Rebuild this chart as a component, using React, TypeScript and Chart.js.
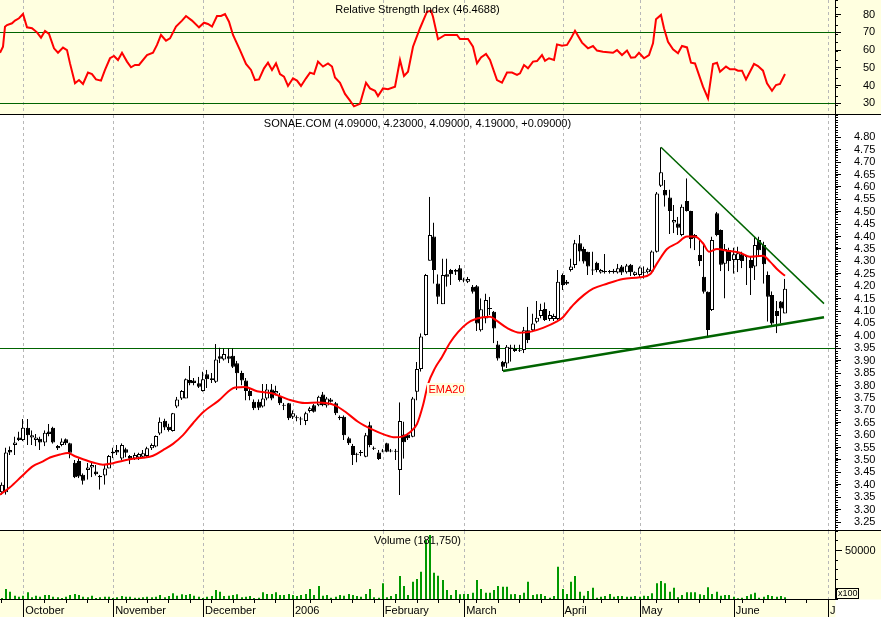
import React, { useEffect, useRef } from "react";
import { Chart, registerables } from "chart.js";

Chart.register(...registerables);

// ---------- DATA (one entry per trading day, index 0 = 26 Sep 2005) ----------
const opens = [
  3.37, 3.37, 3.54, 3.56, 3.59, 3.58, 3.63, 3.59, 3.58, 3.585,
  3.57, 3.615, 3.63, 3.556, 3.56, 3.583, 3.567, 3.489, 3.496, 3.44,
  3.46, 3.47, 3.453, 3.435, 3.437, 3.466, 3.527, 3.54, 3.506, 3.543,
  3.516, 3.506, 3.51, 3.513, 3.516, 3.547, 3.554, 3.607, 3.658, 3.634,
  3.617, 3.715, 3.748, 3.748, 3.822, 3.82, 3.809, 3.778, 3.845, 3.829,
  3.815, 3.918, 3.905, 3.918, 3.92, 3.89, 3.85, 3.82, 3.778, 3.735,
  3.735, 3.715, 3.748, 3.784, 3.768, 3.758, 3.722, 3.728, 3.674, 3.672,
  3.667, 3.657, 3.697, 3.72, 3.72, 3.764, 3.719, 3.744, 3.728, 3.674,
  3.674, 3.587, 3.556, 3.525, 3.532, 3.513, 3.64, 3.549, 3.53, 3.538,
  3.567, 3.538, 3.537, 3.46, 3.603, 3.603, 3.594, 3.775, 3.866, 4.003,
  4.303, 4.40, 4.211, 4.127, 4.248, 4.265, 4.258, 4.272, 4.227, 4.218,
  4.198, 4.20, 4.023, 4.07, 4.112, 4.097, 3.965, 3.896, 3.889, 3.947,
  3.939, 3.94, 3.943, 4.023, 4.023, 4.057, 4.08, 4.108, 4.068, 4.068,
  4.068, 4.245, 4.218, 4.265, 4.285, 4.373, 4.35, 4.339, 4.267, 4.295,
  4.255, 4.261, 4.261, 4.262, 4.255, 4.279, 4.256, 4.286, 4.245, 4.245,
  4.258, 4.256, 4.259, 4.339, 4.605, 4.588, 4.557, 4.457, 4.453, 4.406,
  4.543, 4.503, 4.393, 4.326, 4.238, 4.178, 4.104, 4.494, 4.426, 4.29,
  4.346, 4.306, 4.306, 4.329, 4.322, 4.306, 4.279, 4.386, 4.366, 4.245,
  4.165, 4.10, 4.138, 4.09,
];
const highs = [
  3.41, 3.55, 3.555, 3.595, 3.615, 3.665, 3.665, 3.62, 3.605, 3.595,
  3.62, 3.645, 3.635, 3.56, 3.587, 3.587, 3.57, 3.50, 3.507, 3.446,
  3.489, 3.49, 3.48, 3.44, 3.48, 3.52, 3.55, 3.56, 3.567, 3.55,
  3.52, 3.53, 3.53, 3.54, 3.554, 3.567, 3.60, 3.672, 3.667, 3.647,
  3.69, 3.755, 3.782, 3.829, 3.879, 3.83, 3.835, 3.856, 3.863, 3.85,
  3.967, 3.953, 3.95, 3.95, 3.95, 3.90, 3.86, 3.83, 3.79, 3.745,
  3.745, 3.806, 3.806, 3.806, 3.80, 3.77, 3.73, 3.73, 3.70, 3.68,
  3.675, 3.695, 3.715, 3.725, 3.76, 3.775, 3.755, 3.75, 3.735, 3.68,
  3.68, 3.595, 3.565, 3.53, 3.54, 3.61, 3.655, 3.555, 3.54, 3.545,
  3.57, 3.545, 3.545, 3.732, 3.655, 3.61, 3.755, 3.895, 4.01, 4.25,
  4.56, 4.457, 4.248, 4.312, 4.312, 4.27, 4.27, 4.285, 4.235, 4.238,
  4.205, 4.205, 4.151, 4.171, 4.158, 4.10, 3.98, 3.90, 3.963, 3.965,
  3.965, 3.965, 4.037, 4.117, 4.09, 4.14, 4.13, 4.135, 4.10, 4.09,
  4.265, 4.252, 4.225, 4.312, 4.387, 4.406, 4.36, 4.34, 4.34, 4.30,
  4.27, 4.33, 4.265, 4.27, 4.29, 4.285, 4.29, 4.29, 4.26, 4.28,
  4.28, 4.275, 4.345, 4.58, 4.76, 4.628, 4.59, 4.527, 4.48, 4.53,
  4.635, 4.505, 4.41, 4.39, 4.366, 4.18, 4.40, 4.50, 4.43, 4.37,
  4.356, 4.356, 4.36, 4.34, 4.325, 4.32, 4.40, 4.40, 4.38, 4.26,
  4.18, 4.14, 4.14, 4.23,
];
const lows = [
  3.36, 3.36, 3.52, 3.52, 3.575, 3.575, 3.56, 3.56, 3.555, 3.54,
  3.555, 3.595, 3.565, 3.54, 3.554, 3.56, 3.506, 3.426, 3.426, 3.40,
  3.42, 3.43, 3.436, 3.38, 3.40, 3.466, 3.507, 3.52, 3.50, 3.51,
  3.483, 3.50, 3.50, 3.51, 3.51, 3.54, 3.55, 3.60, 3.62, 3.614,
  3.614, 3.708, 3.742, 3.748, 3.80, 3.80, 3.79, 3.775, 3.79, 3.81,
  3.81, 3.89, 3.90, 3.89, 3.87, 3.782, 3.80, 3.74, 3.74, 3.70,
  3.70, 3.71, 3.74, 3.74, 3.76, 3.72, 3.70, 3.66, 3.665, 3.655,
  3.64, 3.64, 3.69, 3.69, 3.715, 3.715, 3.71, 3.73, 3.68, 3.66,
  3.58, 3.56, 3.48, 3.49, 3.515, 3.51, 3.55, 3.54, 3.50, 3.53,
  3.53, 3.53, 3.50, 3.359, 3.505, 3.58, 3.59, 3.74, 3.855, 4.00,
  4.303, 4.21, 4.127, 4.127, 4.198, 4.205, 4.245, 4.218, 4.215, 4.212,
  4.17, 4.02, 4.017, 4.05, 4.084, 3.97, 3.90, 3.858, 3.87, 3.896,
  3.935, 3.935, 3.93, 3.97, 4.015, 4.05, 4.07, 4.06, 4.06, 4.06,
  4.064, 4.185, 4.205, 4.258, 4.272, 4.30, 4.29, 4.245, 4.245, 4.255,
  4.25, 4.25, 4.25, 4.25, 4.25, 4.245, 4.25, 4.24, 4.24, 4.235,
  4.23, 4.25, 4.255, 4.335, 4.60, 4.52, 4.41, 4.413, 4.406, 4.40,
  4.50, 4.352, 4.345, 4.28, 4.17, 3.99, 4.10, 4.40, 4.26, 4.15,
  4.26, 4.25, 4.256, 4.272, 4.205, 4.165, 4.225, 4.32, 4.21, 4.057,
  4.04, 4.01, 4.05, 4.09,
];
const closes = [
  3.40, 3.53, 3.53, 3.57, 3.58, 3.63, 3.60, 3.60, 3.59, 3.57,
  3.61, 3.605, 3.57, 3.547, 3.574, 3.567, 3.529, 3.43, 3.433, 3.416,
  3.47, 3.48, 3.442, 3.43, 3.466, 3.516, 3.533, 3.53, 3.56, 3.529,
  3.505, 3.52, 3.524, 3.527, 3.547, 3.56, 3.597, 3.654, 3.631, 3.621,
  3.688, 3.744, 3.778, 3.825, 3.809, 3.81, 3.795, 3.825, 3.825, 3.822,
  3.905, 3.908, 3.927, 3.908, 3.876, 3.849, 3.82, 3.778, 3.758, 3.708,
  3.71, 3.748, 3.784, 3.748, 3.778, 3.728, 3.718, 3.668, 3.688, 3.668,
  3.663, 3.688, 3.708, 3.694, 3.755, 3.72, 3.748, 3.735, 3.688, 3.668,
  3.60, 3.567, 3.52, 3.521, 3.528, 3.60, 3.56, 3.545, 3.504, 3.534,
  3.533, 3.534, 3.533, 3.657, 3.571, 3.587, 3.748, 3.866, 3.997, 4.245,
  4.406, 4.265, 4.158, 4.245, 4.238, 4.248, 4.265, 4.225, 4.223, 4.229,
  4.178, 4.05, 4.107, 4.144, 4.108, 4.03, 3.909, 3.876, 3.956, 3.953,
  3.947, 3.944, 4.023, 3.983, 4.05, 4.073, 4.104, 4.064, 4.084, 4.08,
  4.218, 4.205, 4.21, 4.279, 4.373, 4.34, 4.30, 4.279, 4.263, 4.265,
  4.265, 4.257, 4.257, 4.256, 4.272, 4.255, 4.283, 4.256, 4.256, 4.275,
  4.254, 4.268, 4.34, 4.574, 4.659, 4.565, 4.503, 4.467, 4.436, 4.52,
  4.503, 4.39, 4.406, 4.302, 4.178, 4.024, 4.386, 4.406, 4.286, 4.35,
  4.302, 4.329, 4.333, 4.302, 4.318, 4.272, 4.366, 4.345, 4.288, 4.158,
  4.05, 4.08, 4.11, 4.19,
];
// volume in units of 100 shares
const volumes = [
  1000, 10400, 7600, 3400, 2400, 3400, 7000, 1800, 3400, 2400,
  4200, 4200, 2400, 1800, 1000, 2400, 4200, 5200, 4200, 2400,
  1800, 3400, 1000, 1800, 2400, 2400, 1000, 1800, 3100, 2400,
  2400, 1400, 1400, 1800, 2400, 1800, 2400, 4200, 1800, 3100,
  5900, 3400, 4900, 4200, 5200, 3400, 2400, 1000, 2400, 3100,
  9400, 7600, 3100, 3400, 4200, 4900, 1800, 2400, 3100, 1000,
  1400, 7000, 5200, 5200, 7000, 4200, 4200, 5200, 4200, 3100,
  4200, 5200, 10400, 4200, 13500, 3400, 4200, 1400, 2400, 4200,
  3400, 5200, 4200, 3100, 2400, 5200, 10400, 1800, 1400, 16400,
  1800, 3100, 5200, 24000, 13500, 4200, 18000, 20800, 28400, 61500,
  66700, 27400, 24300, 19800, 9400, 4200, 9400, 4900, 5200, 5200,
  6600, 19800, 10400, 6600, 6600, 9400, 13500, 12800, 12800, 4900,
  5200, 4200, 6600, 18000, 4200, 4900, 5200, 3100, 1400, 3100,
  33600, 10400, 5200, 18000, 24000, 7600, 3400, 8300, 11800, 1400,
  2400, 3100, 5200, 2400, 3100, 3100, 2400, 2400, 3100, 2400,
  3400, 3100, 5900, 16400, 18800, 16400, 7600, 11800, 1800, 4200,
  7000, 7000, 7000, 4900, 4200, 12200, 5200, 7600, 3400, 4200,
  4200, 2400, 700, 1400, 3100, 4900, 6600, 1400, 2400, 4200,
  3100, 2400, 3100, 1818,
];
// EMA20: [day, value]
const emaPoints = [
  [-0.4, 3.36], [1.9, 3.39], [4.6, 3.435], [7.3, 3.475], [9.7, 3.494], [11.2, 3.51],
  [13.6, 3.522], [15.5, 3.528], [17.1, 3.515], [19.0, 3.503], [21.4, 3.49], [23.7, 3.481],
  [26.0, 3.487], [28.4, 3.497], [30.7, 3.505], [33.0, 3.509], [35.4, 3.517], [37.7, 3.54],
  [40.0, 3.565], [42.4, 3.6], [44.7, 3.648], [47.1, 3.692], [50.6, 3.737], [54.5, 3.792],
  [56.8, 3.794], [59.5, 3.777], [63.0, 3.769], [66.9, 3.744], [70.8, 3.729], [73.9, 3.731],
  [77.8, 3.72], [80.2, 3.695], [83.3, 3.654], [86.4, 3.623], [89.5, 3.601], [91.8, 3.591],
  [93.8, 3.595], [95.4, 3.612], [96.9, 3.645], [98.5, 3.72], [99.6, 3.805], [101.2, 3.87],
  [102.8, 3.915], [104.7, 3.972], [106.6, 4.015], [108.6, 4.05], [110.9, 4.07], [114.0, 4.077],
  [115.6, 4.06], [118.0, 4.032], [121.0, 4.013], [123.4, 4.016], [126.5, 4.032], [129.6, 4.058],
  [131.2, 4.075], [132.7, 4.11], [133.5, 4.124], [135.9, 4.165], [138.2, 4.19], [141.3, 4.21],
  [145.2, 4.229], [149.1, 4.236], [151.4, 4.248], [153.0, 4.292], [155.3, 4.35], [157.7, 4.373],
  [160.0, 4.4], [162.0, 4.4], [163.9, 4.373], [165.1, 4.339], [167.0, 4.35], [169.4, 4.343],
  [172.5, 4.335], [174.8, 4.319], [177.9, 4.323], [179.5, 4.299], [181.4, 4.265], [183.0, 4.242],
];
// RSI: [day, value]
const rsiPoints = [
  [-0.4, 58.5], [0.2, 61.9], [0.7, 73.2], [1.3, 74.1], [2.3, 75.1], [3.1, 76.6], [4.1, 77.9],
  [5.0, 80.3], [5.9, 72.8], [7.1, 72.3], [8.1, 70], [9.1, 67], [10.1, 70.8], [11.1, 69.1],
  [12.2, 61], [13.2, 58.5], [14.2, 61.4], [15.1, 60], [15.9, 52.5], [17.1, 41.3], [18.0, 43.1],
  [18.9, 40.9], [20.0, 47.3], [21.0, 46.5], [22.1, 43.5], [23.1, 42.8], [24.1, 48.8], [25.3, 55.4],
  [26.2, 56.7], [27.2, 54.4], [28.0, 58.5], [29.2, 53.5], [30.2, 50.3], [31.1, 51.6], [32.1, 51.6],
  [33.8, 57.2], [35.2, 58.5], [36.2, 62.9], [37.1, 68.5], [38.3, 65.3], [39.3, 66.6], [40.7, 73.2],
  [42.0, 76.6], [43.0, 79.2], [44.3, 76.6], [46.1, 72.8], [47.2, 75.4], [48.2, 74.7], [49.2, 73.2],
  [50.2, 79.2], [51.1, 79.2], [52.1, 80.3], [53.1, 76], [54.1, 68.5], [55.6, 60], [57.0, 52.2],
  [58.1, 48.8], [59.1, 43.1], [60.1, 43.5], [61.2, 49.7], [62.2, 52.9], [63.0, 48.8], [64.0, 52.5],
  [65.0, 46.5], [65.9, 45], [66.9, 39.8], [68.1, 44.1], [69.0, 42.8], [70.0, 39.8], [71.1, 44.1],
  [72.1, 47.3], [72.9, 46.5], [73.9, 53.5], [75.0, 50.7], [76.3, 52.5], [77.1, 50.7], [77.8, 44.6],
  [79.0, 41.6], [80.2, 35.3], [81.3, 31.5], [82.3, 28.3], [83.7, 29.7], [85.0, 41.6], [86.0, 38.4],
  [87.2, 37.1], [87.9, 34.1], [89.0, 38.4], [90.3, 37.9], [91.8, 39.4], [93.0, 54.4], [93.9, 45.4],
  [94.9, 47.8], [96.1, 61.9], [97.8, 72.3], [99.4, 81.6], [100.2, 82.2], [100.8, 78.8], [102.0, 66.1],
  [103.5, 68.5], [106.3, 68.5], [107.0, 66.2], [109.0, 66.2], [110.0, 61.9], [111.1, 52.5],
  [111.9, 55.9], [113.0, 57.8], [114.0, 54.4], [115.7, 43.1], [116.9, 41.6], [118.1, 47.3],
  [119.1, 47.3], [120.3, 46], [121.1, 46.9], [122.0, 51.6], [123.0, 49.7], [124.0, 53.5],
  [125.0, 53.8], [126.1, 57.2], [126.9, 54], [127.9, 55.4], [129.0, 54.4], [129.8, 63.2],
  [130.8, 62.5], [132.0, 62.9], [132.9, 66.6], [133.9, 70.9], [135.5, 64.2], [137.0, 61],
  [138.0, 62.3], [139.0, 59.7], [140.5, 59.1], [142.8, 58.5], [143.8, 60], [145.0, 57.2],
  [146.0, 59.7], [147.0, 55.7], [147.9, 55.9], [148.9, 58.5], [150.0, 55.4], [151.3, 57.2],
  [152.2, 63.8], [152.8, 77.3], [153.9, 79.8], [154.7, 72.3], [155.7, 64.7], [156.9, 60.4],
  [158.0, 58.2], [158.8, 62.3], [160.0, 61.5], [160.9, 52.9], [161.9, 52.5], [163.9, 39.4],
  [164.9, 32.8], [166.1, 52.2], [167.0, 52.9], [167.8, 47.8], [169.1, 50.7], [170.1, 49.2],
  [171.3, 49.2], [172.1, 48.4], [172.9, 48.4], [173.9, 43.5], [175.7, 52.2], [176.7, 51],
  [177.9, 48.4], [178.8, 41.3], [179.9, 37.1], [180.9, 40.3], [181.8, 40.9], [183.0, 46.5],
];
// trend lines drawn on the price panel: [day, price]
const upperTrend = [[153.9, 4.76], [192.1, 4.13]];
const lowerTrend = [[117.0, 3.858], [192.1, 4.075]];
const priceRefLines = [3.95];
const rsiRefLines = [30, 70];

// axis ticks and labels
const monthTicks = [5, 26, 47, 68, 89, 108, 131, 149, 171, 193];
const monthLabels = ["October", "November", "December", "2006", "February", "March", "April", "May", "June", "J"];
const weekTicks = [0, 10, 15, 20, 25, 29, 34, 39, 44, 49, 54, 59, 64, 72, 77, 82, 87, 92, 97, 102, 107, 111, 116, 121, 126, 136, 140, 144, 153, 158, 163, 168, 173, 178, 183, 188];
const priceTickLabels = ["3.25", "3.30", "3.35", "3.40", "3.45", "3.50", "3.55", "3.60", "3.65", "3.70", "3.75", "3.80", "3.85", "3.90", "3.95", "4.00", "4.05", "4.10", "4.15", "4.20", "4.25", "4.30", "4.35", "4.40", "4.45", "4.50", "4.55", "4.60", "4.65", "4.70", "4.75", "4.80"];
const rsiTickLabels = ["30", "40", "50", "60", "70", "80"];
const volumeTickLabels = ["50000"];

const rsiTitle = "Relative Strength Index (46.4688)";
const priceTitle = "SONAE.COM (4.09000, 4.23000, 4.09000, 4.19000, +0.09000)";
const volumeTitle = "Volume (181,750)";
const emaLabel = "EMA20";
const emaLabelAt = { day: 99.3, price: 3.81 };

// ---------- STYLE / LAYOUT ----------
const FONT = "'Liberation Sans', Arial, Helvetica, sans-serif";
const YELLOW = "#ffffe0";
const GRID_GRAY = "#b8b8b8";
const REF_GREEN = "#006400";
const X_MIN = -0.444;
const X_MAX = 194.65;
const W = 881;
const RSI_H = 114;
const PRICE_H = 415;
const VOL_H = 86;
const RSI_MIN = 23.99, RSI_MAX = 88.21;
const P_MIN = 3.2178, P_MAX = 4.8898;
const V_MIN = 0, V_MAX = 70833;

function monthGridAxis(tickLength: number, border: boolean): any {
  return {
    type: "linear", axis: "x", position: "bottom", min: X_MIN, max: X_MAX,
    offset: false, bounds: "data", weight: 0, alignToPixels: true,
    afterBuildTicks: (a: any) => { a.ticks = monthTicks.map((v) => ({ value: v })); },
    afterFit: (a: any) => { a.height = 0; a.paddingLeft = 0; a.paddingRight = 0; },
    ticks: { display: false },
    grid: {
      offset: false, color: GRID_GRAY, lineWidth: 1, drawOnChartArea: true,
      drawTicks: tickLength > 0, tickLength, tickColor: "#000", tickWidth: 1, tickBorderDash: [],
    },
    border: { display: border, color: "#000", width: 1, dash: [3, 3] },
  };
}

function majorAxis(min: number, max: number, labels: string[], tickLength: number, padding: number, refs: number[]): any {
  return {
    type: "linear", axis: "y", position: "right", min, max, bounds: "data", weight: 1,
    afterBuildTicks: (a: any) => { a.ticks = labels.map((l) => ({ value: parseFloat(l) })); },
    afterFit: (a: any) => { a.width = 46; a.paddingTop = 0; a.paddingBottom = 0; },
    ticks: {
      autoSkip: false, padding, color: "#000", font: { family: FONT, size: 11 },
      callback: (_v: any, i: number) => labels[i],
    },
    grid: {
      drawOnChartArea: true, drawTicks: true, tickLength, tickColor: "#000", tickWidth: 1, lineWidth: 1,
      color: (c: any) => (c.tick && refs.some((r) => Math.abs(r - c.tick.value) < 1e-6) ? REF_GREEN : "rgba(0,0,0,0)"),
    },
    border: { display: true, color: "#000", width: 1 },
  };
}

function minorAxis(min: number, max: number, stepSize: number): any {
  return {
    type: "linear", axis: "y", position: "right", min, max, bounds: "data", weight: 0,
    afterFit: (a: any) => { a.width = 0; a.paddingTop = 0; a.paddingBottom = 0; },
    ticks: { display: false, stepSize, includeBounds: false, autoSkip: false },
    grid: { drawOnChartArea: false, drawTicks: true, tickLength: 3, tickColor: "#000", tickWidth: 1 },
    border: { display: false },
  };
}

function decor(background: string, title: string, titleY: number, extra?: (chart: any) => void, whiteCorner?: boolean): any {
  return {
    id: "decor",
    beforeDraw(chart: any) {
      const { ctx, width, height, chartArea } = chart;
      ctx.save();
      ctx.fillStyle = background;
      ctx.fillRect(0, 0, width, height);
      if (whiteCorner) {
        ctx.fillStyle = "#ffffff";
        ctx.fillRect(chartArea.right + 0.5, chartArea.bottom + 0.5, width - chartArea.right, height - chartArea.bottom);
      }
      ctx.restore();
    },
    afterDatasetsDraw(chart: any) {
      const { ctx, chartArea } = chart;
      ctx.save();
      if (extra) extra(chart);
      ctx.font = `11px ${FONT}`;
      ctx.fillStyle = "#000";
      ctx.textAlign = "center";
      ctx.textBaseline = "middle";
      ctx.fillText(title, (chartArea.left + chartArea.right) / 2, chartArea.top + titleY);
      ctx.restore();
    },
  };
}

const baseOptions: any = {
  responsive: false,
  animation: false,
  events: [],
  layout: { padding: 0 },
  plugins: { legend: { display: false }, tooltip: { enabled: false }, title: { display: false } },
};

function rsiConfig(): any {
  return {
    type: "line",
    data: {
      datasets: [{
        type: "line", data: rsiPoints.map(([d, v]) => ({ x: d, y: v })), xAxisID: "x", yAxisID: "y",
        borderColor: "#ff0000", borderWidth: 2, pointRadius: 0, tension: 0,
      }],
    },
    options: {
      ...baseOptions,
      scales: {
        x: monthGridAxis(0, false),
        y: majorAxis(RSI_MIN, RSI_MAX, rsiTickLabels, 6, 22, rsiRefLines),
        yMinor: minorAxis(RSI_MIN, RSI_MAX, 5),
      },
    },
    plugins: [decor(YELLOW, rsiTitle, 10)],
  };
}

function priceConfig(): any {
  const bodyColors = closes.map((c, i) => (c >= opens[i] ? "#ffffff" : "#000000"));
  const drawEmaLabel = (chart: any) => {
    const { ctx } = chart;
    const left = chart.scales.x.getPixelForValue(emaLabelAt.day);
    const top = chart.scales.y.getPixelForValue(emaLabelAt.price);
    ctx.font = `11px ${FONT}`;
    const w = ctx.measureText(emaLabel).width;
    ctx.fillStyle = YELLOW;
    ctx.fillRect(left, top, w + 3, 13);
    ctx.fillStyle = "#ff0000";
    ctx.textAlign = "left";
    ctx.textBaseline = "middle";
    ctx.fillText(emaLabel, left + 1.5, top + 6.8);
  };
  return {
    type: "line",
    data: {
      datasets: [
        {
          type: "line", data: emaPoints.map(([d, v]) => ({ x: d, y: v })), xAxisID: "x", yAxisID: "y",
          borderColor: "#ff0000", borderWidth: 2, pointRadius: 0, cubicInterpolationMode: "monotone", order: 0,
        },
        {
          type: "line", data: upperTrend.map(([d, v]) => ({ x: d, y: v })), xAxisID: "x", yAxisID: "y",
          borderColor: REF_GREEN, borderWidth: 1.5, pointRadius: 0, order: 1,
        },
        {
          type: "line", data: lowerTrend.map(([d, v]) => ({ x: d, y: v })), xAxisID: "x", yAxisID: "y",
          borderColor: REF_GREEN, borderWidth: 2.5, pointRadius: 0, order: 1,
        },
        {
          type: "bar", data: closes.map((c, i) => ({ x: i, y: [opens[i], c] })), xAxisID: "x", yAxisID: "y",
          backgroundColor: bodyColors, borderColor: "#000000", borderWidth: 1, borderSkipped: false,
          barThickness: 4, grouped: false, minBarLength: 1, inflateAmount: 0, order: 2,
        },
        {
          // wick: a 2px bar with only its left edge stroked -> crisp 1px line
          type: "bar", data: closes.map((_c, i) => ({ x: i, y: [lows[i], highs[i]] })), xAxisID: "x", yAxisID: "y",
          backgroundColor: "rgba(0,0,0,0)", borderColor: "#000000",
          borderWidth: { left: 1, right: 0, top: 0, bottom: 0 }, borderSkipped: false,
          barThickness: 2, grouped: false, inflateAmount: 0, order: 3,
        },
      ],
    },
    options: {
      ...baseOptions,
      scales: {
        x: monthGridAxis(0, false),
        y: majorAxis(P_MIN, P_MAX, priceTickLabels, 6, 13, priceRefLines),
        yMinor: minorAxis(P_MIN, P_MAX, 0.01),
      },
    },
    plugins: [decor("#ffffff", priceTitle, 9, drawEmaLabel)],
  };
}

function volumeConfig(): any {
  const drawX100 = (chart: any) => {
    const { ctx, chartArea } = chart;
    const left = chartArea.right + 1.5;
    const top = chartArea.bottom - 10.5;
    ctx.strokeStyle = "#000";
    ctx.lineWidth = 1;
    ctx.strokeRect(left, top, 22, 10);
    ctx.font = `9px ${FONT}`;
    ctx.fillStyle = "#000";
    ctx.textAlign = "left";
    ctx.textBaseline = "middle";
    ctx.fillText("x100", left + 1.5, top + 5.5);
  };
  return {
    type: "line",
    data: {
      datasets: [{
        type: "bar", data: volumes.map((v, i) => ({ x: i, y: v })), xAxisID: "x", yAxisID: "y",
        backgroundColor: "#009900", borderWidth: 0, barThickness: 2, grouped: false, inflateAmount: 0,
      }],
    },
    options: {
      ...baseOptions,
      scales: {
        x: monthGridAxis(18, true),
        xWeek: {
          type: "linear", axis: "x", position: "bottom", min: X_MIN, max: X_MAX, offset: false, bounds: "data", weight: 1,
          afterBuildTicks: (a: any) => { a.ticks = weekTicks.map((v) => ({ value: v })); },
          afterFit: (a: any) => { a.height = 0; a.paddingLeft = 0; a.paddingRight = 0; },
          ticks: { display: false },
          grid: { offset: false, drawOnChartArea: false, drawTicks: true, tickLength: 4, tickColor: "#000", tickWidth: 1 },
          border: { display: false },
        },
        xLabels: {
          type: "linear", axis: "x", position: "bottom", min: X_MIN, max: X_MAX, offset: false, bounds: "data", weight: 2,
          afterBuildTicks: (a: any) => { a.ticks = monthTicks.map((v) => ({ value: v })); },
          afterFit: (a: any) => { a.height = 18; a.paddingLeft = 0; a.paddingRight = 0; },
          ticks: {
            autoSkip: false, maxRotation: 0, minRotation: 0, align: "start", labelOffset: 2, padding: 5,
            color: "#000", font: { family: FONT, size: 11 },
            callback: (_v: any, i: number) => monthLabels[i],
          },
          grid: { display: false, drawTicks: false, drawOnChartArea: false, offset: false },
          border: { display: false },
        },
        y: majorAxis(V_MIN, V_MAX, volumeTickLabels, 7, 3, []),
        yMinor: minorAxis(V_MIN, V_MAX, 10000),
      },
    },
    plugins: [decor(YELLOW, volumeTitle, 9.5, drawX100, true)],
  };
}

export default function App() {
  const rsiRef = useRef<HTMLCanvasElement>(null);
  const priceRef = useRef<HTMLCanvasElement>(null);
  const volRef = useRef<HTMLCanvasElement>(null);

  useEffect(() => {
    document.body.style.margin = "0";
    Chart.defaults.font.family = FONT;
    Chart.defaults.font.size = 11;
    Chart.defaults.color = "#000";
    const charts = [
      new Chart(rsiRef.current as HTMLCanvasElement, rsiConfig()),
      new Chart(priceRef.current as HTMLCanvasElement, priceConfig()),
      new Chart(volRef.current as HTMLCanvasElement, volumeConfig()),
    ];
    return () => charts.forEach((c) => c.destroy());
  }, []);

  const abs = (top: number, h: number): React.CSSProperties => ({
    position: "absolute", left: 0, top, width: W, height: h, display: "block",
  });

  return (
    <div style={{ position: "relative", width: W, height: 617, overflow: "hidden", background: "#fff" }}>
      <canvas ref={rsiRef} width={W} height={RSI_H} style={abs(0, RSI_H)} />
      <div style={{ ...abs(RSI_H, 1), background: "#000" }} />
      <canvas ref={priceRef} width={W} height={PRICE_H} style={abs(RSI_H + 1, PRICE_H)} />
      <div style={{ ...abs(RSI_H + 1 + PRICE_H, 1), background: "#000" }} />
      <canvas ref={volRef} width={W} height={VOL_H} style={abs(RSI_H + 2 + PRICE_H, VOL_H)} />
    </div>
  );
}
